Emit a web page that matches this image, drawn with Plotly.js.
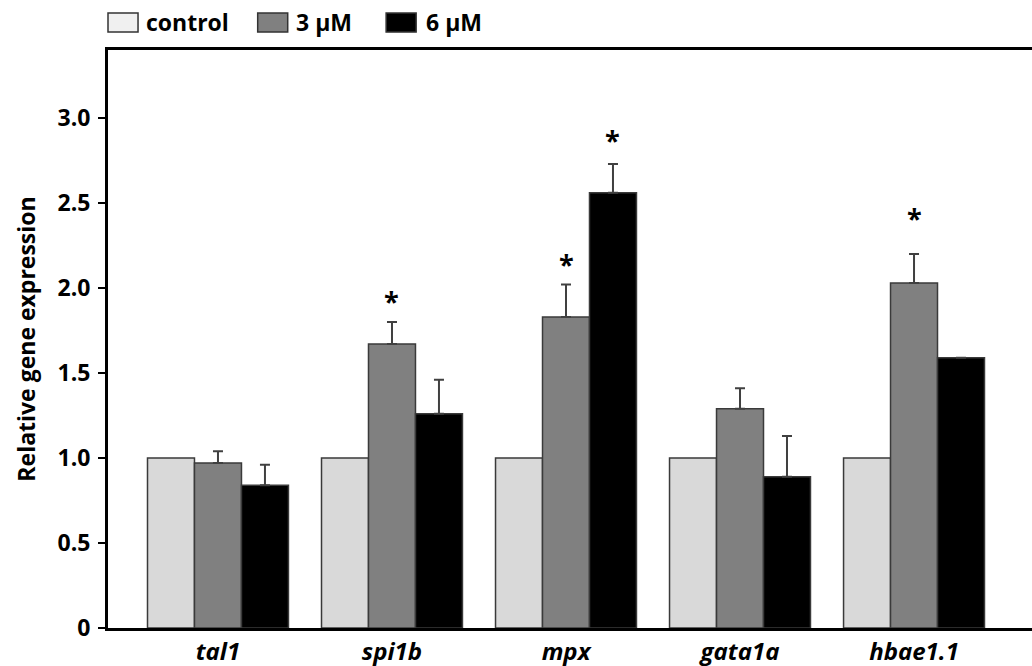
<!DOCTYPE html>
<html>
<head>
<meta charset="utf-8">
<script src="https://cdn.plot.ly/plotly-3.0.1.min.js"></script>
<style>html,body{margin:0;padding:0;background:#fff;}#chart{width:1032px;height:666px;}</style>
</head>
<body>
<div id="chart"></div>
<script>
var genes = ['tal1', 'spi1b', 'mpx', 'gata1a', 'hbae1.1'];
var seriesNames = ['control', '3 µM', '6 µM'];
var controlVals = [1.0, 1.0, 1.0, 1.0, 1.0];
var low3Vals = [0.97, 1.67, 1.83, 1.29, 2.03];
var high6Vals = [0.84, 1.26, 2.56, 0.89, 1.59];
var low3Err = [0.07, 0.13, 0.19, 0.12, 0.17];
var high6Err = [0.12, 0.20, 0.17, 0.24, 0];
// significance marks: gene, series index (1 = 3 µM, 2 = 6 µM), height of the mark
var sigGene = ['spi1b', 'mpx', 'mpx', 'hbae1.1'];
var sigSeries = [1, 1, 2, 1];
var sigY = [1.95, 2.17, 2.90, 2.44];
var yTickVals = [0, 0.5, 1.0, 1.5, 2.0, 2.5, 3.0];
var yTickText = ['0', '0.5', '1.0', '1.5', '2.0', '2.5', '3.0'];

var colors = ['#d9d9d9', '#808080', '#000000'];
var edge = '#3a3a3a';
var FONT = 'Open Sans, Noto Sans, sans-serif';

function errObj(arr) {
  return {type: 'data', array: arr, arrayminus: arr.map(function(){return 0;}), symmetric: false,
          visible: true, color: '#404040', thickness: 2, width: 5};
}

var traces = [
  {type: 'bar', name: seriesNames[0], x: genes, y: controlVals,
   marker: {color: colors[0], line: {color: edge, width: 1.5}}},
  {type: 'bar', name: seriesNames[1], x: genes, y: low3Vals, error_y: errObj(low3Err),
   marker: {color: colors[1], line: {color: edge, width: 1.5}}},
  {type: 'bar', name: seriesNames[2], x: genes, y: high6Vals, error_y: errObj(high6Err),
   marker: {color: colors[2], line: {color: edge, width: 1.5}}}
];

var W = 1032, H = 666;
var mL = 108, mR = 0, mT = 50, mB = 38;
var plotW = W - mL - mR;
var xRange = [-0.632, 4.678];
var bargap = 0.19;
var pxPerCat = plotW / (xRange[1] - xRange[0]);
var barPx = pxPerCat * (1 - bargap) / 3;

var annotations = [];
sigGene.forEach(function(g, k) {
  annotations.push({
    x: g, y: sigY[k], xref: 'x', yref: 'y',
    text: '<b>*</b>', showarrow: false, xanchor: 'center', yanchor: 'middle',
    xshift: (sigSeries[k] - 1) * barPx, yshift: -4,
    font: {family: FONT, size: 27, color: '#000'}
  });
});

// custom legend
var shapes = [];
var legendItems = [
  {x0: 0, x1: 0.0325, tx: 0.039},
  {x0: 0.162, x1: 0.1945, tx: 0.201},
  {x0: 0.301, x1: 0.3335, tx: 0.342}
];
legendItems.forEach(function(it, i) {
  shapes.push({type: 'rect', xref: 'paper', yref: 'paper', x0: it.x0, x1: it.x1, y0: 1.031, y1: 1.064,
               fillcolor: i === 0 ? '#f0f0f0' : colors[i], line: {color: '#333', width: 1.5}});
  annotations.push({xref: 'paper', yref: 'paper', x: it.tx, y: 1.049, text: '<b>' + seriesNames[i] + '</b>',
                    showarrow: false, xanchor: 'left', yanchor: 'middle',
                    font: {family: FONT, size: 23, color: '#000'}});
});

var layout = {
  width: W, height: H,
  margin: {l: mL, r: mR, t: mT, b: mB, pad: 0},
  paper_bgcolor: '#fff', plot_bgcolor: '#fff',
  showlegend: false,
  barmode: 'group', bargap: bargap, bargroupgap: 0,
  font: {family: FONT, color: '#000'},
  xaxis: {
    type: 'category', range: xRange, showgrid: false, zeroline: false,
    showline: true, linecolor: '#000', linewidth: 3, mirror: true,
    ticks: '', tickfont: {family: FONT, size: 24, color: '#000', weight: 'bold', style: 'italic'},
    ticklabelstandoff: 0
  },
  yaxis: {
    range: [0, 3.4], showgrid: false, zeroline: false,
    showline: true, linecolor: '#000', linewidth: 3,
    ticks: 'outside', ticklen: 7, tickwidth: 2, tickcolor: '#000',
    tickvals: yTickVals, ticktext: yTickText, ticklabelstandoff: 3,
    tickfont: {family: FONT, size: 23, color: '#000', weight: 'bold'},
    title: {text: '<b>Relative gene expression</b>', font: {family: FONT, size: 23, color: '#000'}, standoff: 16}
  },
  shapes: shapes,
  annotations: annotations
};

Plotly.newPlot('chart', traces, layout, {staticPlot: true, displayModeBar: false});
</script>
</body>
</html>
